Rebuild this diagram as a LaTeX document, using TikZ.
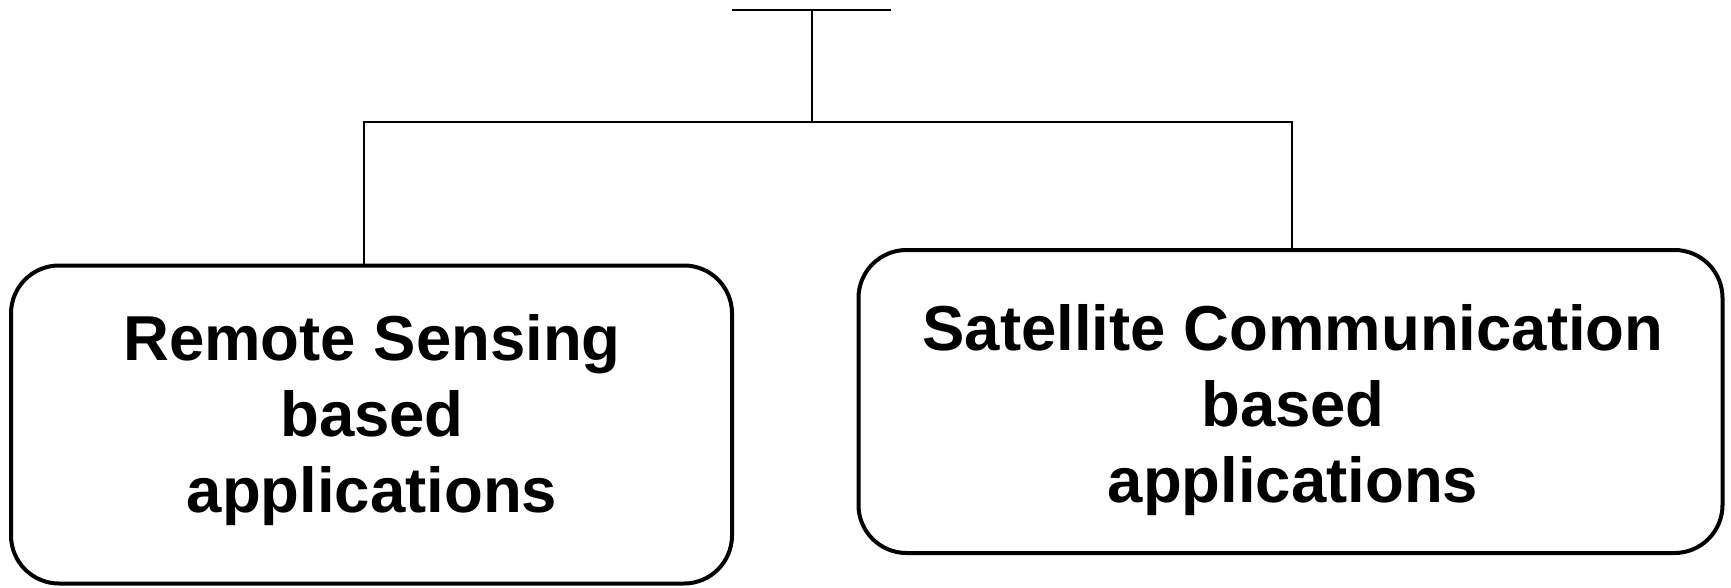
\documentclass[tikz,border=0pt]{standalone}
\usepackage{fontspec}
\setmainfont{Liberation Sans}
\begin{document}
\begin{tikzpicture}[x=1pt,y=-1pt,
  appbox/.style={draw=black,line width=4pt,rounded corners=48pt,fill=white,inner sep=0pt},
  apptext/.style={inner sep=0pt,align=center,font=\fontsize{63.5}{76}\selectfont\bfseries},
  conn/.style={draw=black,line width=2pt}]
\useasboundingbox (0,0) rectangle (1731,588);
% boxes
\node[appbox,minimum width=721pt,minimum height=318pt] (rs) at (371.5,424.5) {};
\node[appbox,minimum width=864pt,minimum height=303pt] (sc) at (1290.5,401.5) {};
\node[apptext] (rst) at (372,420.5) {Remote Sensing\\based\\applications};
\node[apptext] (sct) at (1293,410) {Satellite Communication\\based\\applications};
% connector tree
\coordinate (tl) at (732,10);
\coordinate (tr) at (891,10);
\coordinate (j) at (812,10);
\coordinate (jb) at (812,122);
\coordinate (bl) at (364,122);
\coordinate (br) at (1292,122);
\draw[conn] (tl) -- (tr);
\draw[conn] (j) -- (jb);
\draw[conn,line cap=rect] (bl) -- (br);
\draw[conn] (bl) -- (bl |- rs.north);
\draw[conn] (br) -- (br |- sc.north);
\end{tikzpicture}
\end{document}
